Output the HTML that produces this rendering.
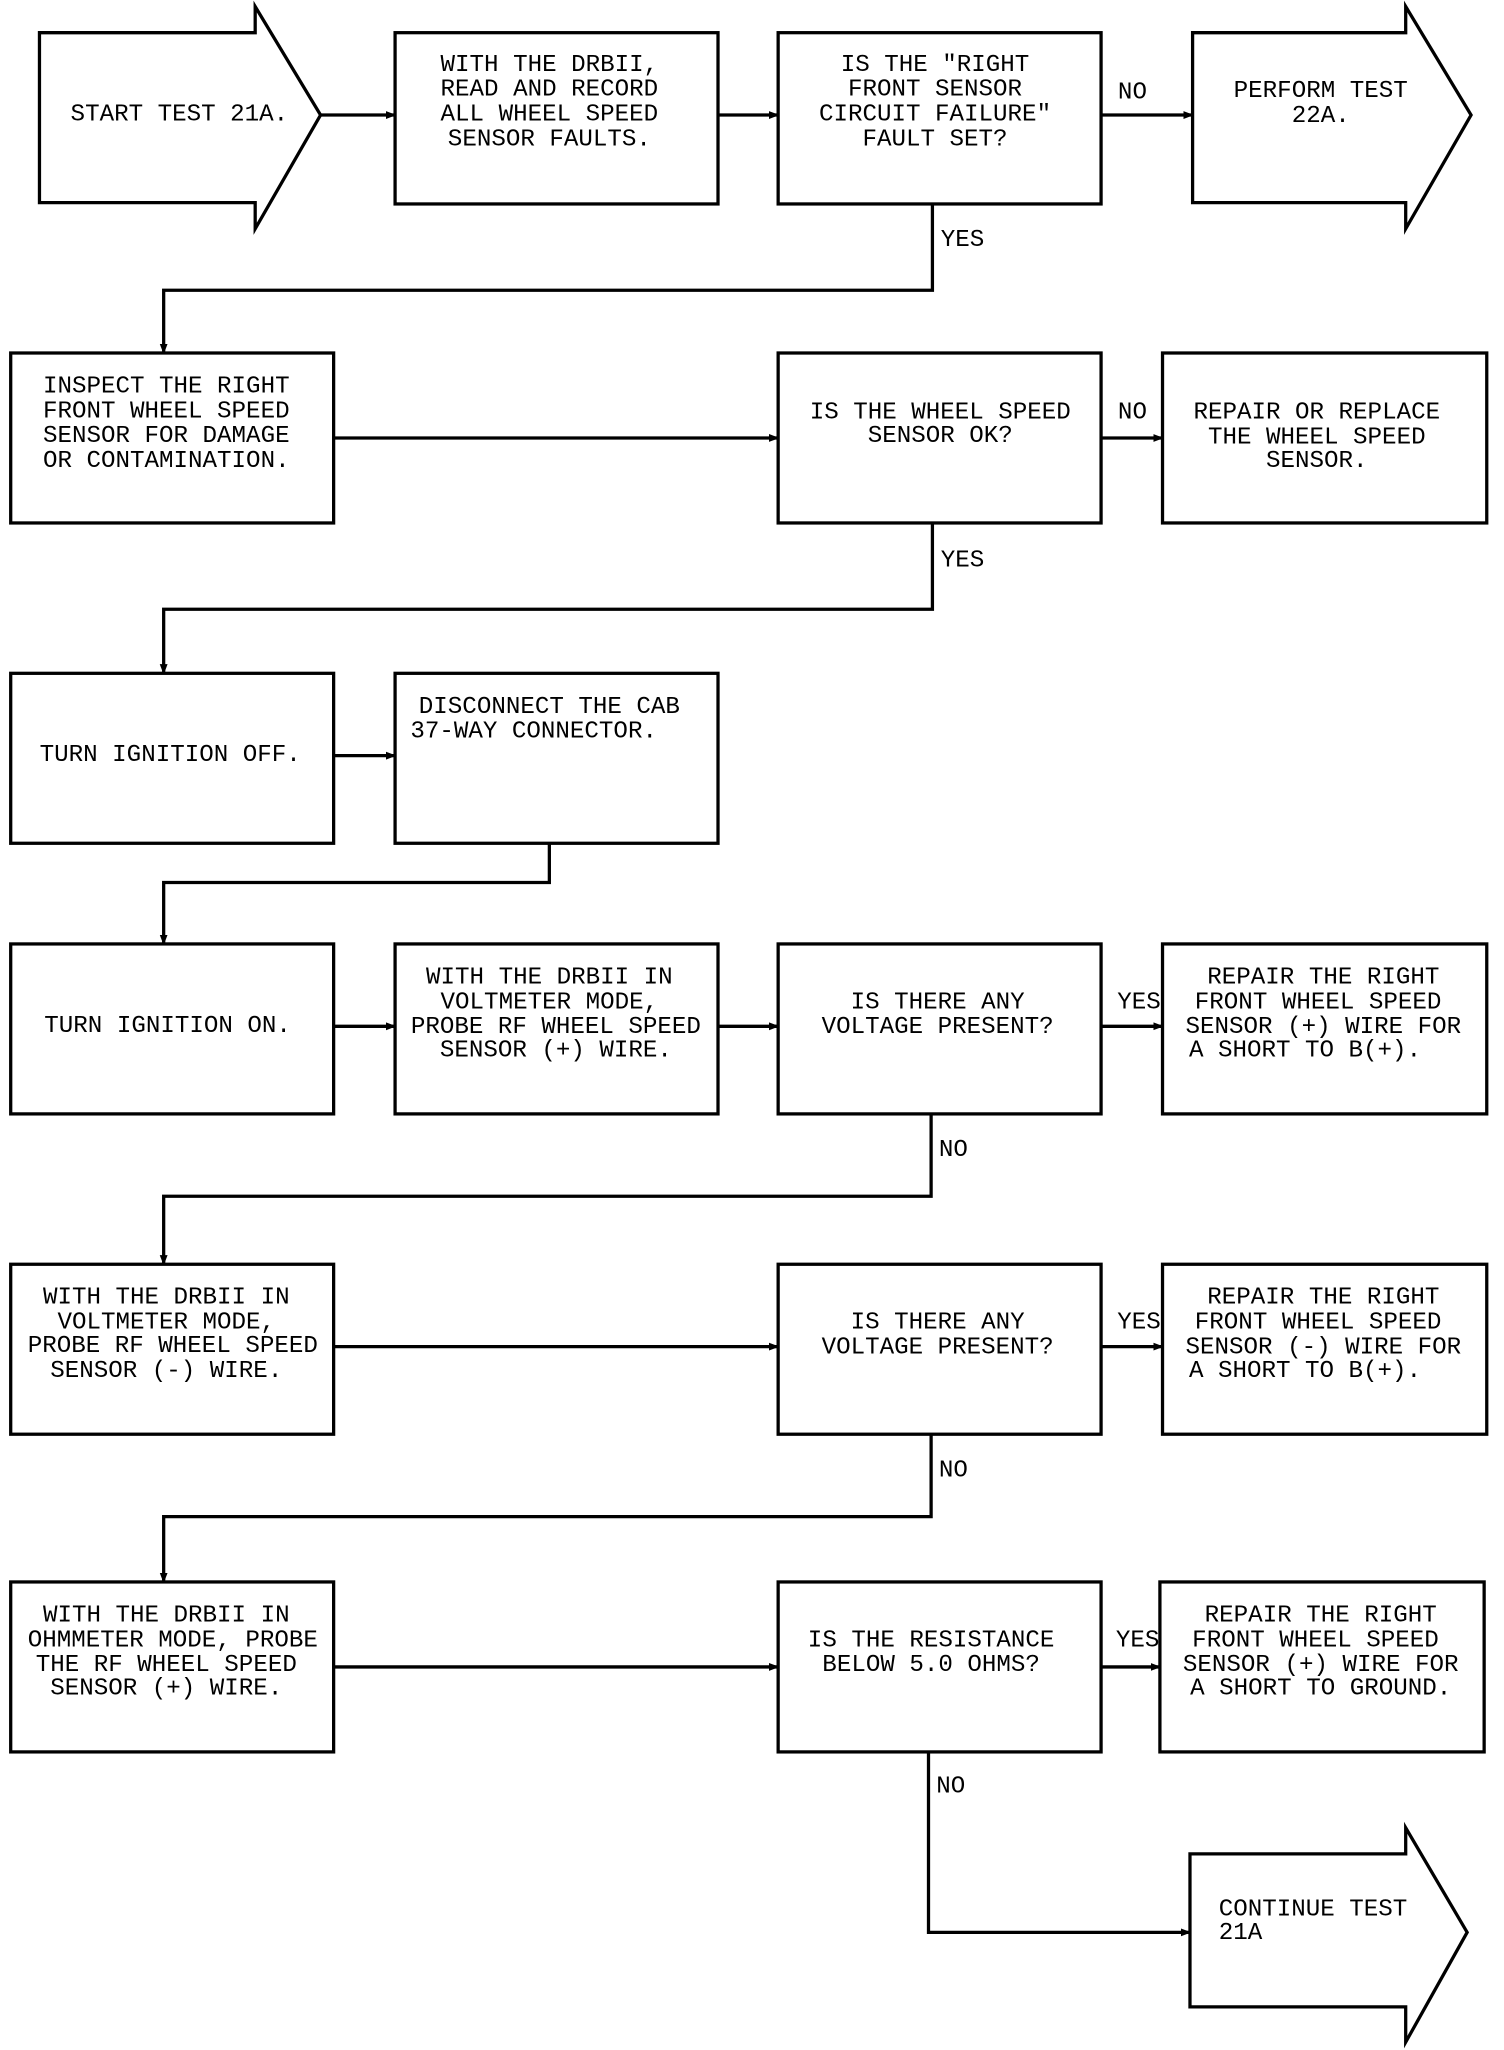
<!DOCTYPE html>
<html><head><meta charset="utf-8"><style>
html,body{margin:0;padding:0;background:#fff;}
svg{display:block;}
text{font-family:"Liberation Mono",monospace;font-size:18.5px;fill:#000;text-anchor:middle;dominant-baseline:central;}
.l{text-anchor:start;}
</style></head><body>
<svg width="1504" height="2050" viewBox="0 0 1150 1568" xmlns="http://www.w3.org/2000/svg">
<defs><marker id="a" markerWidth="8" markerHeight="8" refX="7" refY="4" orient="auto" markerUnits="userSpaceOnUse"><path d="M0,1 L8,4 L0,7 Z" fill="#000"/></marker></defs>
<g fill="none" stroke="#000" stroke-width="2.5">
<!-- arrows shapes -->
<path d="M30,25 H195 V5 L245,88 L195,175 V155 H30 Z"/>
<path d="M912,25 H1075 V5 L1125,88 L1075,175 V155 H912 Z"/>
<path d="M910,1418 H1075 V1398 L1122,1478 L1075,1562 V1535 H910 Z"/>
<!-- boxes -->
<rect x="302" y="25" width="247" height="131"/>
<rect x="595" y="25" width="247" height="131"/>
<rect x="8" y="270" width="247" height="130"/>
<rect x="595" y="270" width="247" height="130"/>
<rect x="889" y="270" width="248" height="130"/>
<rect x="8" y="515" width="247" height="130"/>
<rect x="302" y="515" width="247" height="130"/>
<rect x="8" y="722" width="247" height="130"/>
<rect x="302" y="722" width="247" height="130"/>
<rect x="595" y="722" width="247" height="130"/>
<rect x="889" y="722" width="248" height="130"/>
<rect x="8" y="967" width="247" height="130"/>
<rect x="595" y="967" width="247" height="130"/>
<rect x="889" y="967" width="248" height="130"/>
<rect x="8" y="1210" width="247" height="130"/>
<rect x="595" y="1210" width="247" height="130"/>
<rect x="887" y="1210" width="248" height="130"/>
<!-- connectors -->
<g marker-end="url(#a)">
<path d="M245,88 H302"/>
<path d="M549,88 H595"/>
<path d="M842,88 H912"/>
<path d="M713,156 V222 H125 V270"/>
<path d="M255,335 H595"/>
<path d="M842,335 H889"/>
<path d="M713,400 V466 H125 V515"/>
<path d="M255,578 H302"/>
<path d="M420,645 V675 H125 V722"/>
<path d="M255,785 H302"/>
<path d="M549,785 H595"/>
<path d="M842,785 H889"/>
<path d="M712,852 V915 H125 V967"/>
<path d="M255,1030 H595"/>
<path d="M842,1030 H889"/>
<path d="M712,1097 V1160 H125 V1210"/>
<path d="M255,1275 H595"/>
<path d="M842,1275 H887"/>
<path d="M710,1340 V1478 H910"/>
</g>
</g>
<text x="137" y="88">START TEST 21A.</text>
<text x="420" y="50">WITH THE DRBII,</text><text x="420" y="69">READ AND RECORD</text><text x="420" y="88">ALL WHEEL SPEED</text><text x="420" y="107">SENSOR FAULTS.</text>
<text x="715" y="50">IS THE "RIGHT</text><text x="715" y="69">FRONT SENSOR</text><text x="715" y="88">CIRCUIT FAILURE"</text><text x="715" y="107">FAULT SET?</text>
<text x="866" y="71">NO</text>
<text x="1010" y="70">PERFORM TEST</text><text x="1010" y="89">22A.</text>
<text x="736" y="184">YES</text>
<text x="127" y="296">INSPECT THE RIGHT</text><text x="127" y="315">FRONT WHEEL SPEED</text><text x="127" y="334">SENSOR FOR DAMAGE</text><text x="127" y="353">OR CONTAMINATION.</text>
<text x="719" y="316">IS THE WHEEL SPEED</text><text x="719" y="334">SENSOR OK?</text>
<text x="866" y="316">NO</text>
<text x="1007" y="316">REPAIR OR REPLACE</text><text x="1007" y="335">THE WHEEL SPEED</text><text x="1007" y="353">SENSOR.</text>
<text x="736" y="429">YES</text>
<text x="130" y="578">TURN IGNITION OFF.</text>
<text x="420" y="541">DISCONNECT THE CAB</text><text x="408" y="560">37-WAY CONNECTOR.</text>
<text x="128" y="785">TURN IGNITION ON.</text>
<text x="420" y="748">WITH THE DRBII IN</text><text x="420" y="767">VOLTMETER MODE,</text><text x="425" y="786">PROBE RF WHEEL SPEED</text><text x="425" y="804">SENSOR (+) WIRE.</text>
<text x="717" y="767">IS THERE ANY</text><text x="717" y="786">VOLTAGE PRESENT?</text>
<text x="871" y="767">YES</text>
<text x="1012" y="748">REPAIR THE RIGHT</text><text x="1008" y="767">FRONT WHEEL SPEED</text><text x="1012" y="786">SENSOR (+) WIRE FOR</text><text x="998" y="804">A SHORT TO B(+).</text>
<text x="729" y="880">NO</text>
<text x="127" y="993">WITH THE DRBII IN</text><text x="127" y="1012">VOLTMETER MODE,</text><text x="132" y="1030">PROBE RF WHEEL SPEED</text><text x="127" y="1049">SENSOR (-) WIRE.</text>
<text x="717" y="1012">IS THERE ANY</text><text x="717" y="1031">VOLTAGE PRESENT?</text>
<text x="871" y="1012">YES</text>
<text x="1012" y="993">REPAIR THE RIGHT</text><text x="1008" y="1012">FRONT WHEEL SPEED</text><text x="1012" y="1031">SENSOR (-) WIRE FOR</text><text x="998" y="1049">A SHORT TO B(+).</text>
<text x="729" y="1125">NO</text>
<text x="127" y="1236">WITH THE DRBII IN</text><text x="132" y="1255">OHMMETER MODE, PROBE</text><text x="127" y="1274">THE RF WHEEL SPEED</text><text x="127" y="1292">SENSOR (+) WIRE.</text>
<text x="712" y="1255">IS THE RESISTANCE</text><text x="712" y="1274">BELOW 5.0 OHMS?</text>
<text x="870" y="1255">YES</text>
<text x="1010" y="1236">REPAIR THE RIGHT</text><text x="1006" y="1255">FRONT WHEEL SPEED</text><text x="1010" y="1274">SENSOR (+) WIRE FOR</text><text x="1010" y="1292">A SHORT TO GROUND.</text>
<text x="727" y="1367">NO</text>
<text class="l" x="932" y="1461">CONTINUE TEST</text><text class="l" x="932" y="1479">21A</text>
</svg>
</body></html>
